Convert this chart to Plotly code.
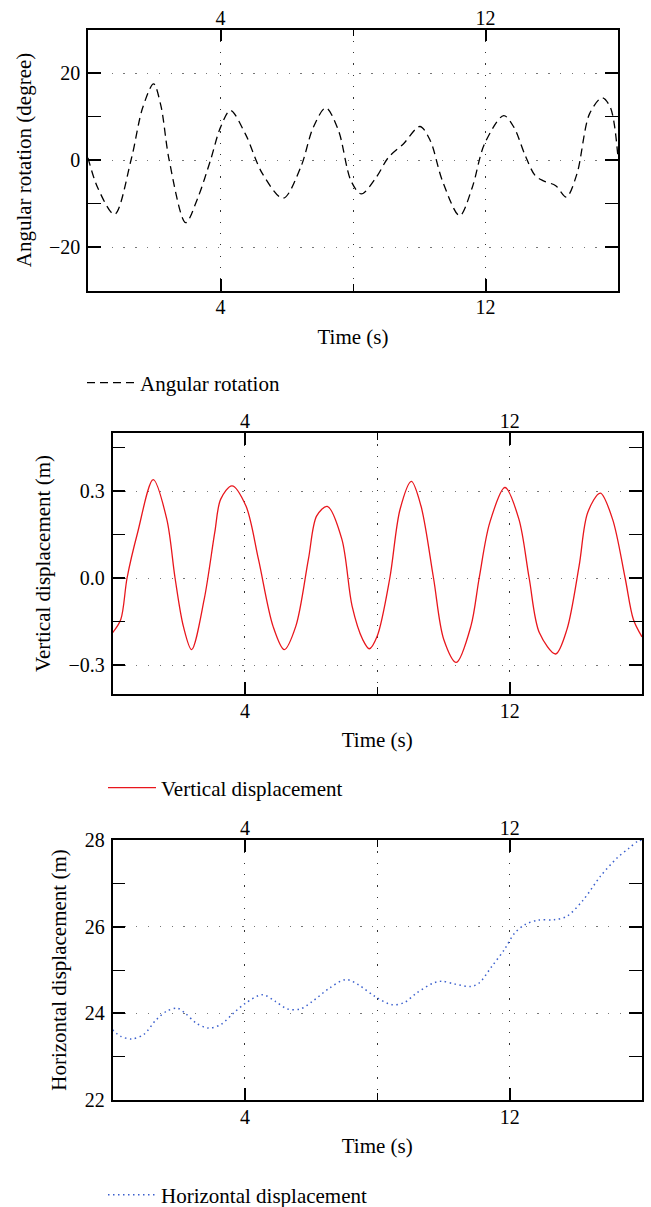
import plotly.graph_objects as go

# ---------------- data ----------------
t_ang = [0.0, 0.3, 0.8, 1.3, 1.65, 1.98, 2.2, 2.45, 2.95, 3.3, 3.7, 4.0, 4.3, 4.75, 5.27, 5.89,
         6.42, 6.8, 7.18, 7.56, 7.94, 8.25, 8.7, 9.07, 9.52, 10.02, 10.33, 10.7, 11.22, 11.6,
         11.97, 12.55, 12.86, 13.18, 13.5, 13.75, 14.12, 14.44, 14.76, 15.14, 15.52, 15.77, 16.0]
ang = [0.5, -6.5, -12.5, 0.0, 12.0, 17.5, 12.5, 0.0, -14.4, -9.0, 0.0, 7.5, 11.4, 6.0, -3.2, -8.8,
       -1.7, 7.5, 12.0, 6.8, -4.8, -7.8, -4.0, 0.6, 3.7, 7.7, 4.5, -4.8, -12.8, -6.3,
       3.7, 10.2, 7.5, 1.4, -3.6, -4.8, -5.9, -8.5, -3.2, 10.6, 14.3, 12.1, 0.5]

t_vert = [0.0, 0.25, 0.44, 0.76, 1.23, 1.64, 1.89, 2.14, 2.39, 2.77, 3.09, 3.27, 3.61, 4.03,
          4.41, 4.85, 5.19, 5.54, 5.92, 6.17, 6.49, 6.93, 7.24, 7.56, 7.76, 8.0, 8.38, 8.69,
          9.03, 9.32, 9.7, 10.01, 10.39, 10.83, 11.08, 11.4, 11.86, 12.28, 12.59, 12.9, 13.39,
          13.73, 14.1, 14.36, 14.74, 15.11, 15.49, 15.74, 16.0]
vert = [-0.189, -0.143, 0.0, 0.157, 0.339, 0.203, 0.0, -0.166, -0.247, -0.074, 0.157, 0.272,
        0.318, 0.249, 0.065, -0.166, -0.247, -0.166, 0.065, 0.214, 0.247, 0.134, -0.097, -0.212,
        -0.244, -0.2, 0.0, 0.237, 0.333, 0.249, 0.0, -0.212, -0.291, -0.166, 0.0, 0.191, 0.312,
        0.203, 0.0, -0.189, -0.262, -0.178, 0.042, 0.226, 0.293, 0.203, 0.0, -0.143, -0.203]

t_hor = [0.0, 0.25, 0.57, 0.94, 1.32, 1.64, 1.95, 2.2, 2.52, 2.9, 3.27, 3.65, 4.03, 4.53, 4.91,
         5.29, 5.67, 6.05, 6.55, 7.05, 7.43, 7.93, 8.44, 8.82, 9.19, 9.7, 9.95, 10.33, 10.83,
         11.08, 11.46, 11.84, 12.15, 12.47, 12.85, 13.35, 13.73, 14.23, 14.74, 15.24, 15.62,
         15.87, 16.0]
hor = [23.62, 23.47, 23.41, 23.51, 23.85, 24.05, 24.12, 24.0, 23.78, 23.66, 23.74, 24.0, 24.24,
       24.43, 24.28, 24.1, 24.1, 24.28, 24.58, 24.78, 24.66, 24.39, 24.2, 24.25, 24.47, 24.7,
       24.74, 24.68, 24.62, 24.7, 25.08, 25.47, 25.85, 26.05, 26.15, 26.16, 26.24, 26.62, 27.16,
       27.58, 27.82, 27.97, 28.0]

x_ticks = [4, 12]
x_minor = [8]
y1_ticks, y1_minor = [-20, 0, 20], [-10, 10]
y2_ticks, y2_minor = [-0.3, 0.0, 0.3], [-0.15, 0.15, 0.45]
y3_ticks, y3_minor = [22, 24, 26, 28], [23, 25, 27]

# ---------------- figure ----------------
W, H = 651, 1207
FONT = "Liberation Serif"
XGRID = dict(showgrid=True, gridcolor="#333333", gridwidth=1.3, griddash="1.3px,10px")
YGRID = dict(showgrid=True, gridcolor="#777777", gridwidth=1.3, griddash="1.3px,10.5px")

fig = go.Figure()
fig.add_trace(go.Scatter(x=t_ang, y=ang, mode="lines", name="Angular rotation",
                         line=dict(color="black", width=1.3, dash="8px,5px", shape="spline", smoothing=0.9),
                         xaxis="x", yaxis="y", legend="legend"))
fig.add_trace(go.Scatter(x=t_vert, y=vert, mode="lines", name="Vertical displacement",
                         line=dict(color="#e8161c", width=1.3, shape="spline", smoothing=0.9),
                         xaxis="x2", yaxis="y2", legend="legend2"))
fig.add_trace(go.Scatter(x=t_hor, y=hor, mode="lines", name="Horizontal displacement",
                         line=dict(color="#3a5fcd", width=1.5, dash="1.5px,3.5px", shape="spline", smoothing=0.9),
                         xaxis="x3", yaxis="y3", legend="legend3"))

# invisible companions so the top (label-only) time axes get drawn
for tx, ty, xa, ya in [(t_ang, ang, "x4", "y"), (t_vert, vert, "x5", "y2"), (t_hor, hor, "x6", "y3")]:
    fig.add_trace(go.Scatter(x=tx, y=ty, mode="lines", opacity=0, line=dict(width=0),
                             showlegend=False, hoverinfo="skip", xaxis=xa, yaxis=ya))


def px_x(a, b):
    return [a / W, b / W]


def px_y(top, bottom):
    return [1 - bottom / H, 1 - top / H]


def xaxis(domain, anchor):
    return dict(domain=domain, anchor=anchor, range=[0, 16], tickvals=x_ticks,
                ticktext=[str(v) for v in x_ticks], ticks="inside", ticklen=12, tickwidth=1.5,
                tickcolor="black", showline=True, linecolor="black", linewidth=1.5,
                mirror="allticks", zeroline=False, tickfont=dict(size=20), ticklabelstandoff=-2,
                minor=dict(tickvals=x_minor, ticks="inside", ticklen=7, tickwidth=1.3,
                           tickcolor="black", **XGRID),
                title=dict(text="Time (s)", font=dict(size=21), standoff=12), **XGRID)


def xtop(domain, overlay, anchor):
    return dict(domain=domain, anchor=anchor, overlaying=overlay, side="top", range=[0, 16],
                tickvals=x_ticks, ticktext=[str(v) for v in x_ticks], ticks="",
                showgrid=False, showline=False, zeroline=False, tickfont=dict(size=20),
                ticklabelstandoff=0)


def yaxis(domain, anchor, rng, ticks, minor, title, fmt=None):
    d = dict(domain=domain, anchor=anchor, range=rng, tickvals=ticks, ticks="inside",
             ticklen=13, tickwidth=1.5, tickcolor="black", showline=True, linecolor="black",
             linewidth=1.5, mirror="allticks", zeroline=False, tickfont=dict(size=20),
             ticklabelstandoff=2,
             minor=dict(tickvals=minor, ticks="inside", ticklen=7, tickwidth=1.3,
                        tickcolor="black", showgrid=False),
             title=dict(text=title, font=dict(size=21), standoff=12), **YGRID)
    if fmt:
        d["tickformat"] = fmt
    return d


d1x, d1y = px_x(88, 618), px_y(29.5, 290.5)
d2x, d2y = px_x(112.5, 642), px_y(433, 694)
d3x, d3y = px_x(112.5, 642), px_y(840, 1100)

fig.update_layout(
    width=W, height=H,
    margin=dict(l=0, r=0, t=0, b=0, autoexpand=False),
    paper_bgcolor="white", plot_bgcolor="white",
    font=dict(family=FONT, size=20, color="black"),
    xaxis=xaxis(d1x, "y"), yaxis=yaxis(d1y, "x", [-30, 30], y1_ticks, y1_minor, "Angular rotation (degree)"),
    xaxis2=xaxis(d2x, "y2"), yaxis2=yaxis(d2y, "x2", [-0.4, 0.5], y2_ticks, y2_minor, "Vertical displacement (m)", ".1f"),
    xaxis3=xaxis(d3x, "y3"), yaxis3=yaxis(d3y, "x3", [22, 28], y3_ticks, y3_minor, "Horizontal displacement (m)"),
    xaxis4=xtop(d1x, "x", "y"),
    xaxis5=xtop(d2x, "x2", "y2"),
    xaxis6=xtop(d3x, "x3", "y3"),
    showlegend=True,
)

leg_common = dict(xanchor="left", yanchor="middle", bgcolor="rgba(0,0,0,0)", borderwidth=0,
                  font=dict(family=FONT, size=21, color="black"), itemwidth=48)
fig.update_layout(
    legend=dict(x=82 / W, y=1 - 383 / H, **leg_common),
    legend2=dict(x=103 / W, y=1 - 788 / H, **leg_common),
    legend3=dict(x=103 / W, y=1 - 1195 / H, **leg_common),
)

fig.write_html("out.html")
